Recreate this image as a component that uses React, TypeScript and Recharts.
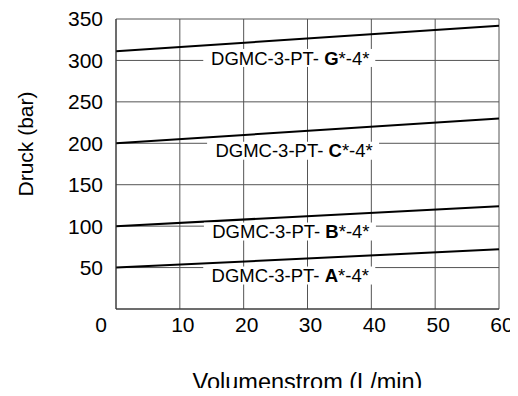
import React from 'react';
import { ComposedChart, Line, Scatter, XAxis, YAxis, CartesianGrid, Label } from 'recharts';

const flowX = [0, 60];
const seriesG = [311, 342];
const seriesC = [200, 230];
const seriesB = [100, 124];
const seriesA = [50, 72];

const xTicks = [0, 10, 20, 30, 40, 50, 60];
const yTicks = [0, 50, 100, 150, 200, 250, 300, 350];

const labelLetters = ['G', 'C', 'B', 'A'];
const labelX = [27.3, 27.9, 27.4, 27.3];
const labelY = [303, 191, 93.5, 40.4];

const rows = flowX.map((x, i) => ({ x, G: seriesG[i], C: seriesC[i], B: seriesB[i], A: seriesA[i] }));
const labelRows = labelLetters.map((l, i) => ({ x: labelX[i], y: labelY[i], letter: l }));

const FONT = '"Liberation Sans", Arial, sans-serif';

const XTick = (props: any) => {
  const { x, y, payload } = props;
  const dx = payload.value === 0 ? -15 : 3;
  return (
    <text x={x + dx} y={y} dy="0.71em" textAnchor="middle" fontSize={21} fontFamily={FONT} fill="#000">
      {payload.value}
    </text>
  );
};

const YTick = (props: any) => {
  const { x, y, payload } = props;
  if (payload.value === 0) return null;
  return (
    <text x={x} y={y} dy="0.355em" textAnchor="end" fontSize={21} fontFamily={FONT} fill="#000">
      {payload.value}
    </text>
  );
};

const CurveLabel = (props: any) => {
  const { cx, cy, payload } = props;
  if (cx == null || cy == null) return null;
  return (
    <g>
      <rect x={cx - 87} y={cy - 9} width={172} height={18} fill="#fff" />
      <text x={cx} y={cy} dy="0.36em" textAnchor="middle" fontSize={18.5} fontFamily={FONT} fill="#000">
        <tspan>DGMC-3-PT- </tspan>
        <tspan fontWeight="bold">{payload.letter}</tspan>
        <tspan>*-4*</tspan>
      </text>
    </g>
  );
};

export default function App() {
  return (
    <div style={{ width: 510, height: 380 }}>
      <ComposedChart
        width={510}
        height={388}
        data={rows}
        margin={{ top: 11, right: 19, left: 0, bottom: 0 }}
        style={{ fontFamily: FONT }}
      >
        <CartesianGrid stroke="#555" strokeWidth={1} horizontalValues={yTicks} verticalValues={xTicks} />
        <XAxis
          type="number"
          dataKey="x"
          domain={[0, 60]}
          ticks={xTicks}
          tickLine={false}
          tickSize={0}
          tickMargin={8}
          height={87}
          stroke="#333"
          tick={<XTick />}
          interval={0}
        >
          <Label
            content={(p: any) => {
              const vb = p.viewBox || { x: 108, y: 301, width: 383 };
              return (
                <text x={vb.x + vb.width / 2} y={vb.y + 73} dy="0.36em" textAnchor="middle" fontSize={23.5} fontFamily={FONT} fill="#000">
                  Volumenstrom (L/min)
                </text>
              );
            }}
          />
        </XAxis>
        <YAxis
          type="number"
          domain={[0, 350]}
          ticks={yTicks}
          tickLine={false}
          tickSize={0}
          tickMargin={13}
          width={108}
          stroke="#333"
          tick={<YTick />}
          interval={0}
        >
          <Label
            content={(p: any) => {
              const vb = p.viewBox || { x: 0, y: 11 };
              const cx = vb.x + 17;
              const cy = vb.y + 125;
              return (
                <text x={cx} y={cy} dy="0.36em" textAnchor="middle" fontSize={21} fontFamily={FONT} fill="#000" transform={`rotate(-90 ${cx} ${cy})`}>
                  Druck (bar)
                </text>
              );
            }}
          />
        </YAxis>
        <Scatter data={labelRows} dataKey="y" shape={<CurveLabel />} isAnimationActive={false} />
        <Line type="linear" dataKey="G" stroke="#000" strokeWidth={2} dot={false} isAnimationActive={false} />
        <Line type="linear" dataKey="C" stroke="#000" strokeWidth={2} dot={false} isAnimationActive={false} />
        <Line type="linear" dataKey="B" stroke="#000" strokeWidth={2} dot={false} isAnimationActive={false} />
        <Line type="linear" dataKey="A" stroke="#000" strokeWidth={2} dot={false} isAnimationActive={false} />
      </ComposedChart>
    </div>
  );
}
